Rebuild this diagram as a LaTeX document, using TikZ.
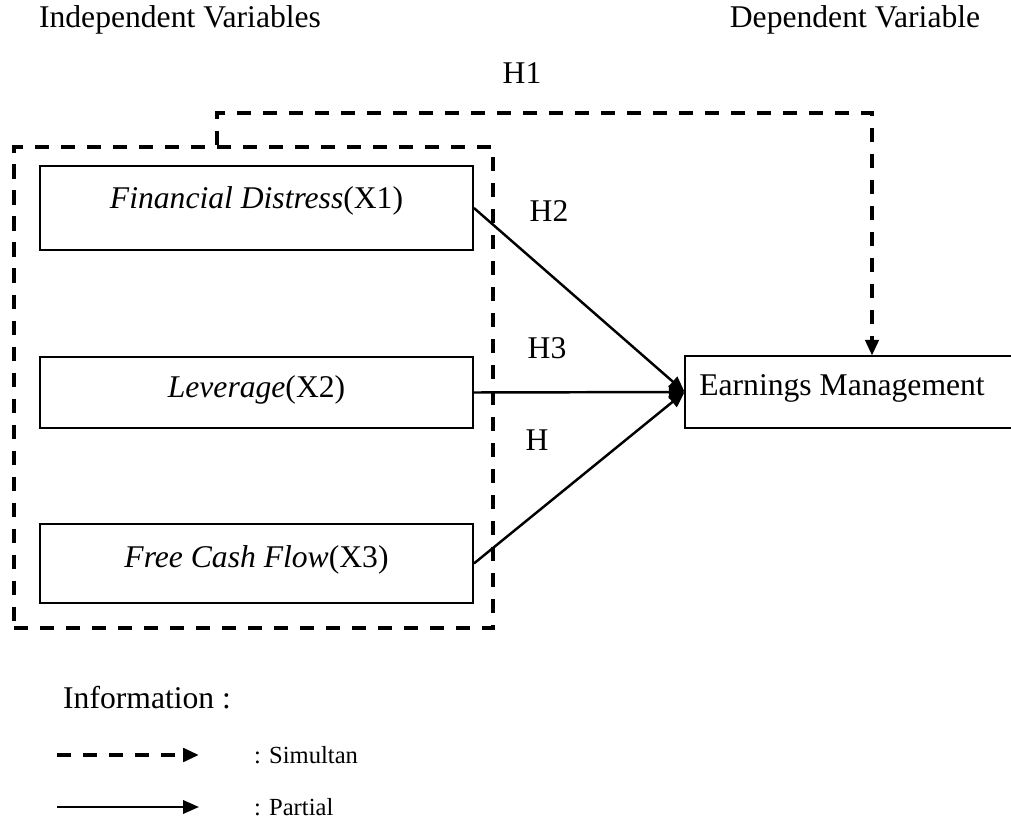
\documentclass[tikz,border=0pt]{standalone}
\usepackage{fontspec}
\setmainfont{Liberation Serif}
\usetikzlibrary{arrows.meta}

\begin{document}
\begin{tikzpicture}[x=0.02cm, y=-0.02cm,
    >={Triangle[length=9pt,width=7.5pt]},
    every node/.style={font=\fontsize{18}{21}\selectfont},
    varbox/.style={draw, line width=1.1pt, minimum width=8.66cm, text height=0.5cm},
    groupbox/.style={draw, line width=2.4pt, dash pattern=on 8pt off 6.8pt,
        minimum width=9.58cm, minimum height=9.62cm},
    simul/.style={line width=2.4pt, dash pattern=on 8pt off 6.8pt},
    partial/.style={line width=1.4pt},
    legendtext/.style={anchor=west, inner sep=1pt, font=\fontsize{14}{17}\selectfont}]

    \useasboundingbox (0,0) rectangle (1011,820);

    % Judul kolom
    \node (indep) at (180,20) {Independent Variables};
    \node (dep) at (855,20) {Dependent Variable};

    % Variabel independen
    \node[varbox, minimum height=1.68cm, text depth=0.48cm] (x1) at (256.5,208) {\textit{Financial Distress}(X1)};
    \node[varbox, minimum height=1.42cm, text depth=0.30cm] (x2) at (256.5,392.5) {\textit{Leverage}(X2)};
    \node[varbox, minimum height=1.58cm, text depth=0.34cm] (x3) at (256.5,563.5) {\textit{Free Cash Flow}(X3)};

    % Kotak putus-putus (simultan)
    \node[groupbox] (grp) at (253.5,387.5) {};

    % Variabel dependen (kotak terpotong di kanan)
    \node[minimum width=6.28cm, minimum height=1.44cm, text height=0.5cm, text depth=0.36cm] (em) at (842,392) {Earnings Management};
    \coordinate (rightedge) at (1011,392);
    \draw[line width=1.1pt] (em.north west -| rightedge) -- (em.north west) -- (em.south west) -- (em.south west -| rightedge);

    % H1
    \coordinate (hx) at (217,113);
    \coordinate (hy) at (872,113);
    \draw[simul,->] (grp.north -| hx) -- (hx) -- (hy) -- (em.north -| hy);
    \node (h1) at (522,73) {H1};

    % Parsial
    \draw[partial,->] (x1.east) -- (em.west);
    \draw[partial,->] (x2.east) -- (em.west);
    \draw[partial,->] (x3.east) -- (em.west);
    \node (h2) at (549,211) {H2};
    \node (h3) at (547,348) {H3};
    \node (h4) at (537,440) {H};

    % Keterangan
    \node[anchor=west] (info) at (57,698) {Information :};
    \coordinate (ls1) at (57,755);
    \coordinate (le1) at (199,755);
    \draw[simul,->] (ls1) -- (le1);
    \node[legendtext] (simtxt) at (252,755) {: Simultan};
    \coordinate (ls2) at (57,807);
    \coordinate (le2) at (199,807);
    \draw[partial,->] (ls2) -- (le2);
    \node[legendtext] (partxt) at (252,807) {: Partial};

\end{tikzpicture}
\end{document}
